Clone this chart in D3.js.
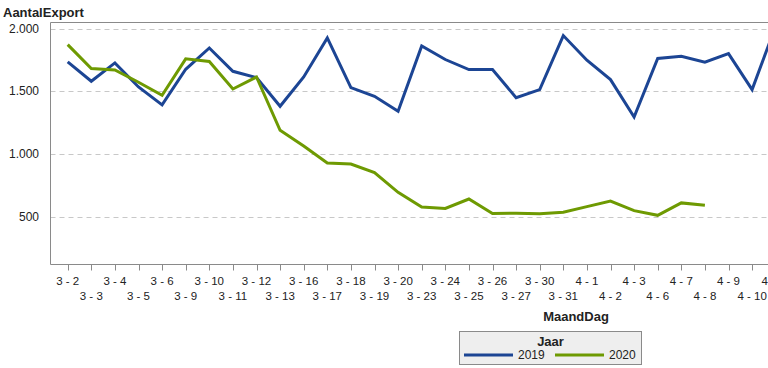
<!DOCTYPE html>
<html>
<head>
<meta charset="utf-8">
<script src="https://cdn.jsdelivr.net/npm/d3@7"></script>
<style>
  body { margin: 0; background: #fff; overflow: hidden; }
  svg { font-family: "Liberation Sans", Arial, sans-serif; }
</style>
</head>
<body>
<div id="chart"></div>
<script>
// DATA
const days = ["3 - 2", "3 - 3", "3 - 4", "3 - 5", "3 - 6", "3 - 9", "3 - 10", "3 - 11", "3 - 12", "3 - 13",
  "3 - 16", "3 - 17", "3 - 18", "3 - 19", "3 - 20", "3 - 23", "3 - 24", "3 - 25", "3 - 26", "3 - 27",
  "3 - 30", "3 - 31", "4 - 1", "4 - 2", "4 - 3", "4 - 6", "4 - 7", "4 - 8", "4 - 9", "4 - 10", "4 - 11"];
const years = ["2019", "2020"];
const export2019 = [1734, 1580, 1726, 1534, 1391, 1675, 1845, 1659, 1609, 1380,
  1614, 1925, 1529, 1460, 1340, 1861, 1753, 1673, 1673, 1449,
  1513, 1944, 1747, 1593, 1295, 1761, 1779, 1731, 1800, 1513, 2020];
const export2020 = [1872, 1681, 1670, 1572, 1468, 1758, 1737, 1518, 1614, 1189,
  1063, 928, 920, 851, 694, 577, 566, 641, 526, 528,
  524, 535, 580, 625, 548, 511, 610, 592, null, null, null];
const yTicks = [500, 1000, 1500, 2000];
const colors = ["#1c4594", "#6e9a02"];

// LAYOUT
const W = 768, H = 368;
const plot = { left: 50.5, top: 22.5, bottom: 264.5, right: 820 };

const svg = d3.select("#chart").append("svg")
  .attr("width", W).attr("height", H);

// SCALES
const x = d3.scalePoint()
  .domain(days)
  .range([67.7, 67.7 + 23.6 * (days.length - 1)]);

const y = d3.scaleLinear()
  .domain([119, 2048])
  .range([plot.bottom, plot.top]);

// grid lines
svg.append("g")
  .selectAll("line")
  .data(yTicks)
  .join("line")
  .attr("x1", plot.left)
  .attr("x2", plot.right)
  .attr("y1", d => Math.round(y(d)) + 0.5)
  .attr("y2", d => Math.round(y(d)) + 0.5)
  .attr("stroke", "#c8c8c8")
  .attr("stroke-dasharray", "5,4");

// frame (top + left + bottom)
svg.append("path")
  .attr("d", `M${plot.right},${plot.top}H${plot.left}V${plot.bottom}H${plot.right}`)
  .attr("fill", "none")
  .attr("stroke", "#8a8a8a")
  .attr("stroke-width", 1);

// y axis labels
svg.append("g")
  .selectAll("text")
  .data(yTicks)
  .join("text")
  .attr("x", 39)
  .attr("y", d => y(d))
  .attr("dy", "0.35em")
  .attr("text-anchor", "end")
  .style("font-size", "12px")
  .attr("fill", "#222")
  .text(d => d3.format(",")(d).replace(",", "."));

// x axis ticks + labels (staggered in two rows)
const xAxis = svg.append("g");
xAxis.selectAll("line")
  .data(days)
  .join("line")
  .attr("x1", d => Math.round(x(d)) + 0.5)
  .attr("x2", d => Math.round(x(d)) + 0.5)
  .attr("y1", plot.bottom)
  .attr("y2", plot.bottom + 6)
  .attr("stroke", "#8a8a8a");

xAxis.selectAll("text")
  .data(days)
  .join("text")
  .attr("x", d => x(d))
  .attr("y", (d, i) => i % 2 === 0 ? 284.5 : 299.5)
  .attr("text-anchor", "middle")
  .style("font-size", "11.5px")
  .attr("fill", "#222")
  .text(d => d);

// LINES
const line = d3.line()
  .defined(d => d.v != null)
  .x(d => x(d.day))
  .y(d => y(d.v));

[export2019, export2020].forEach((vals, k) => {
  svg.append("path")
    .datum(days.map((day, i) => ({ day, v: vals[i] })))
    .attr("fill", "none")
    .attr("stroke", colors[k])
    .attr("stroke-width", 3)
    .attr("stroke-linejoin", "miter")
    .attr("d", line);
});

// TITLES
svg.append("text")
  .attr("x", 3)
  .attr("y", 17)
  .style("font-size", "13px")
  .style("font-weight", "bold")
  .attr("fill", "#222")
  .text("AantalExport");

svg.append("text")
  .attr("x", 576)
  .attr("y", 320.5)
  .attr("text-anchor", "middle")
  .style("font-size", "13px")
  .style("font-weight", "bold")
  .attr("fill", "#222")
  .text("MaandDag");

// LEGEND
const legend = svg.append("g").attr("transform", "translate(459.5,331.5)");
legend.append("rect")
  .attr("width", 182)
  .attr("height", 33)
  .attr("fill", "#eeeeee")
  .attr("stroke", "#8a8a8a");
legend.append("text")
  .attr("x", 91)
  .attr("y", 14)
  .attr("text-anchor", "middle")
  .style("font-size", "13px")
  .style("font-weight", "bold")
  .attr("fill", "#222")
  .text("Jaar");

const item = legend.selectAll("g.item")
  .data(years)
  .join("g")
  .attr("class", "item")
  .attr("transform", (d, i) => `translate(${4.5 + i * 91},23.5)`);
item.append("line")
  .attr("x1", 0).attr("x2", 49)
  .attr("stroke", (d, i) => colors[i])
  .attr("stroke-width", 3);
item.append("text")
  .attr("x", 54)
  .attr("dy", "0.35em")
  .style("font-size", "12px")
  .attr("fill", "#222")
  .text(d => d);
</script>
</body>
</html>
